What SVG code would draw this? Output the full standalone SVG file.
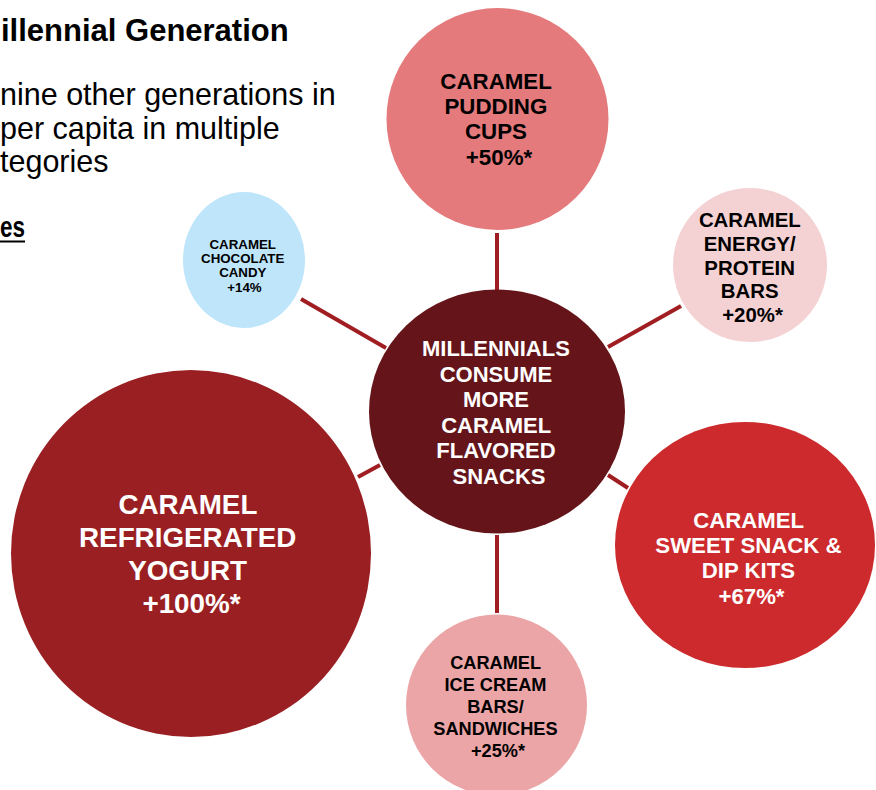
<svg xmlns="http://www.w3.org/2000/svg" width="876" height="790" viewBox="0 0 876 790">
<style>
text{font-family:"Liberation Sans",Arial,sans-serif}
.b{font-weight:bold;text-anchor:middle}
.w{fill:#ffffff}
.k{fill:#000000}
.conn line{stroke:#a01d22;stroke-width:4}
.hd{font-size:31px;font-weight:bold;fill:#000}
.body{font-size:30.5px;fill:#000}
</style>
<rect width="876" height="790" fill="#ffffff"/>
<g id="heading">
<text class="hd" x="1" y="41">illennial Generation</text>
<text class="body" x="0" y="105">nine other generations in</text>
<text class="body" x="0" y="138.5">per capita in multiple</text>
<text class="body" x="0" y="172">tegories</text>
<text x="0" y="237" style="font-size:29px;font-weight:bold;fill:#000" textLength="25" lengthAdjust="spacingAndGlyphs">es</text>
<line x1="0" y1="241.5" x2="25" y2="241.5" stroke="#000" stroke-width="2"/>
</g>
<g id="connectors" class="conn">
<line x1="497" y1="233" x2="497" y2="290"/>
<line x1="608" y1="347" x2="681" y2="306"/>
<line x1="301" y1="299" x2="386" y2="348"/>
<line x1="358" y1="477" x2="380" y2="465"/>
<line x1="608" y1="475" x2="628" y2="488"/>
<line x1="497" y1="535" x2="497" y2="613"/>
</g>
<g id="center">
<ellipse cx="497" cy="411.5" rx="128" ry="122" fill="#65151a"/>
<text class="b w" style="font-size:22px">
<tspan x="499" y="356">MILLENNIALS</tspan>
<tspan x="499" y="381.5">CONSUME</tspan>
<tspan x="499" y="407">MORE</tspan>
<tspan x="499" y="432.5">CARAMEL</tspan>
<tspan x="499" y="458">FLAVORED</tspan>
<tspan x="499" y="483.5">SNACKS</tspan>
</text>
</g>
<g id="pudding">
<circle cx="497.5" cy="119" r="111" fill="#e47a7b"/>
<text class="b k" style="font-size:22.3px">
<tspan x="499" y="89">CARAMEL</tspan>
<tspan x="499" y="114">PUDDING</tspan>
<tspan x="499" y="139">CUPS</tspan>
<tspan x="499" y="165">+50%*</tspan>
</text>
</g>
<g id="energy">
<circle cx="750" cy="265" r="77" fill="#f4d2d3"/>
<text class="b k" style="font-size:20.4px">
<tspan x="752.5" y="227">CARAMEL</tspan>
<tspan x="752.5" y="251">ENERGY/</tspan>
<tspan x="752.5" y="275">PROTEIN</tspan>
<tspan x="752.5" y="298">BARS</tspan>
<tspan x="752.5" y="321.5">+20%*</tspan>
</text>
</g>
<g id="candy">
<ellipse cx="244" cy="260" rx="61" ry="68" fill="#bee5fa"/>
<text class="b k" style="font-size:13.3px">
<tspan x="244.5" y="249">CARAMEL</tspan>
<tspan x="244.5" y="263">CHOCOLATE</tspan>
<tspan x="244.5" y="277">CANDY</tspan>
<tspan x="244.5" y="291.5">+14%</tspan>
</text>
</g>
<g id="yogurt">
<ellipse cx="191" cy="553.5" rx="180" ry="183.5" fill="#9a1f22"/>
<text class="b w" style="font-size:27.8px">
<tspan x="191.5" y="514">CARAMEL</tspan>
<tspan x="191.5" y="547">REFRIGERATED</tspan>
<tspan x="191.5" y="580">YOGURT</tspan>
<tspan x="191.5" y="613">+100%*</tspan>
</text>
</g>
<g id="sweet">
<ellipse cx="745" cy="545" rx="130" ry="123" fill="#cc2a2c"/>
<text class="b w" style="font-size:22.2px">
<tspan x="751.5" y="528">CARAMEL</tspan>
<tspan x="751.5" y="553">SWEET SNACK &amp;</tspan>
<tspan x="751.5" y="578">DIP KITS</tspan>
<tspan x="751.5" y="604">+67%*</tspan>
</text>
</g>
<g id="icecream">
<circle cx="496.5" cy="705" r="90.5" fill="#eca5a6"/>
<text class="b k" style="font-size:18.2px">
<tspan x="498" y="669">CARAMEL</tspan>
<tspan x="498" y="691">ICE CREAM</tspan>
<tspan x="498" y="713">BARS/</tspan>
<tspan x="498" y="735">SANDWICHES</tspan>
<tspan x="498" y="757">+25%*</tspan>
</text>
</g>
</svg>
